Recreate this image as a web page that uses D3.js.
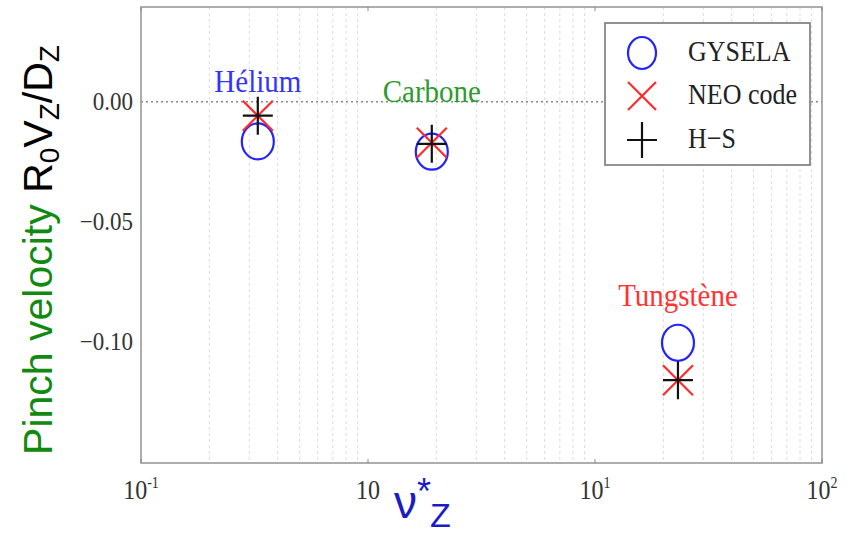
<!DOCTYPE html>
<html>
<head>
<meta charset="utf-8">
<script src="https://cdn.jsdelivr.net/npm/d3@7"></script>
<style>
  body { margin: 0; background: #fff; }
  svg { display: block; }
  .tick-label { font-family: "Liberation Serif", serif; fill: #333; }
  .note { font-family: "Liberation Serif", serif; }
</style>
</head>
<body>
<div id="chart"></div>
<script>
// collision frequency of each impurity (nu*_Z)
const species = ["Hélium", "Carbone", "Tungstène"];
const speciesColor = ["#3333ff", "#2e9a2e", "#ff3333"];
const nuStar = [0.327, 1.91, 23.2];

// pinch velocity R0 Vz / Dz for each model
const gysela = [-0.0165, -0.0208, -0.1004];
const neoCode = [-0.0058, -0.0171, -0.116];
const hirshSigmar = [-0.0058, -0.0175, -0.116];

const seriesNames = ["GYSELA", "NEO code", "H\u2212S"];

const yTicks = [0, -0.05, -0.10];
const yTickLabels = ["0.00", "\u22120.05", "\u22120.10"];
const xTicks = [0.1, 1, 10, 100];
const xTickBase = ["10", "10", "10", "10"];
const xTickExp = ["-1", "", "1", "2"];

const W = 854, H = 537;
const margin = {top: 7, right: 32, bottom: 74, left: 141};

const svg = d3.select("#chart").append("svg")
    .attr("width", W)
    .attr("height", H);

const x = d3.scaleLog().domain([0.1, 100]).range([margin.left, W - margin.right]);
const y = d3.scaleLinear().domain([-0.1505, 0.0395]).range([H - margin.bottom, margin.top]);

// minor grid (2..9 in each decade), dashed
let minor = [];
[0.1, 1, 10].forEach(d => {
    for (let k = 2; k <= 9; k++) minor.push(d * k);
});
svg.append("g")
    .selectAll("line")
    .data(minor)
    .enter().append("line")
    .attr("x1", d => x(d)).attr("x2", d => x(d))
    .attr("y1", y.range()[1]).attr("y2", y.range()[0])
    .attr("stroke", "#dcdcdc")
    .attr("stroke-width", 1)
    .attr("stroke-dasharray", "3,3");

// zero reference line
svg.append("line")
    .attr("x1", x.range()[0]).attr("x2", x.range()[1])
    .attr("y1", y(0)).attr("y2", y(0))
    .attr("stroke", "#888")
    .attr("stroke-width", 1.5)
    .attr("stroke-dasharray", "2,3");

// frame
svg.append("rect")
    .attr("x", x.range()[0]).attr("y", y.range()[1])
    .attr("width", x.range()[1] - x.range()[0])
    .attr("height", y.range()[0] - y.range()[1])
    .attr("fill", "none")
    .attr("stroke", "#999")
    .attr("stroke-width", 1.6);

// small major ticks on top and bottom
xTicks.forEach(d => {
    svg.append("line")
        .attr("x1", x(d)).attr("x2", x(d))
        .attr("y1", y.range()[0]).attr("y2", y.range()[0] - 4)
        .attr("stroke", "#888");
    svg.append("line")
        .attr("x1", x(d)).attr("x2", x(d))
        .attr("y1", y.range()[1]).attr("y2", y.range()[1] + 4)
        .attr("stroke", "#888");
});

// y tick labels
svg.append("g")
    .selectAll("text")
    .data(yTicks)
    .enter().append("text")
    .attr("class", "tick-label")
    .attr("text-anchor", "end")
    .attr("font-size", 23)
    .attr("transform", d => `translate(133, ${y(d) + 8}) scale(1,1.1)`)
    .text((d, i) => yTickLabels[i]);

// x tick labels with exponents
const xl = svg.append("g")
    .selectAll("text")
    .data(xTicks)
    .enter().append("text")
    .attr("class", "tick-label")
    .attr("text-anchor", "middle")
    .attr("font-size", 24)
    .attr("transform", d => `translate(${x(d)}, 499) scale(1,1.15)`);
xl.append("tspan").text((d, i) => xTickBase[i]);
xl.append("tspan")
    .attr("font-size", 14)
    .attr("dy", -10)
    .text((d, i) => xTickExp[i]);

// markers
function drawCircle(g, cx, cy, rx, ry) {
    g.append("ellipse")
        .attr("cx", cx).attr("cy", cy)
        .attr("rx", rx).attr("ry", ry)
        .attr("fill", "none")
        .attr("stroke", "#2323ff")
        .attr("stroke-width", 2.2);
}
function drawCross(g, cx, cy, s) {
    g.append("path")
        .attr("d", `M${cx - s},${cy - s}L${cx + s},${cy + s}M${cx - s},${cy + s}L${cx + s},${cy - s}`)
        .attr("stroke", "#ff2a2a")
        .attr("stroke-width", 2.2)
        .attr("fill", "none");
}
function drawPlus(g, cx, cy, w, h) {
    g.append("path")
        .attr("d", `M${cx - w},${cy}L${cx + w},${cy}M${cx},${cy - h}L${cx},${cy + h}`)
        .attr("stroke", "#111")
        .attr("stroke-width", 2.2)
        .attr("fill", "none");
}

const marks = svg.append("g");
nuStar.forEach((d, i) => drawCircle(marks, x(d), y(gysela[i]), 16, 18));
nuStar.forEach((d, i) => drawCross(marks, x(d), y(neoCode[i]), 15));
nuStar.forEach((d, i) => drawPlus(marks, x(d), y(hirshSigmar[i]), 15, 19));

// species labels
const labelY = [92, 102, 306];
svg.append("g")
    .selectAll("text")
    .data(species)
    .enter().append("text")
    .attr("class", "note")
    .attr("text-anchor", "middle")
    .attr("font-size", 29)
    .attr("fill", (d, i) => speciesColor[i])
    .attr("transform", (d, i) => `translate(${x(nuStar[i])}, ${labelY[i]}) scale(1,1.12)`)
    .text(d => d);

// legend
const lg = svg.append("g");
lg.append("rect")
    .attr("x", 605).attr("y", 23)
    .attr("width", 205).attr("height", 142)
    .attr("fill", "#fff")
    .attr("stroke", "#777")
    .attr("stroke-width", 1.6);
const rowY = [53, 96, 140];
drawCircle(lg, 642, rowY[0], 14, 16);
drawCross(lg, 642, rowY[1], 14);
drawPlus(lg, 642, rowY[2], 15, 18);
lg.selectAll("text.lgt")
    .data(seriesNames)
    .enter().append("text")
    .attr("class", "note lgt")
    .attr("font-size", 26)
    .attr("fill", "#222")
    .attr("transform", (d, i) => `translate(688, ${rowY[i] + 8}) scale(1,1.12)`)
    .text(d => d);

// y axis title
const yt = svg.append("text")
    .attr("font-family", "Liberation Sans, Arial, sans-serif")
    .attr("font-size", 41)
    .attr("text-anchor", "middle")
    .attr("transform", "translate(52, 250) rotate(-90)");
yt.append("tspan").attr("fill", "#128a12").text("Pinch velocity ");
yt.append("tspan").attr("fill", "#000").text("R");
yt.append("tspan").attr("fill", "#000").attr("font-size", 28).attr("dy", 7).text("0");
yt.append("tspan").attr("fill", "#000").attr("dy", -7).text("V");
yt.append("tspan").attr("fill", "#000").attr("font-size", 28).attr("dy", 7).text("Z");
yt.append("tspan").attr("fill", "#000").attr("dy", -7).text("/D");
yt.append("tspan").attr("fill", "#000").attr("font-size", 28).attr("dy", 7).text("Z");

// x axis title
const xt = svg.append("text")
    .attr("font-family", "Liberation Sans, Arial, sans-serif")
    .attr("fill", "#1c1cc4")
    .attr("x", 394).attr("y", 518);
xt.append("tspan").attr("font-size", 46).text("\u03bd");
xt.append("tspan").attr("font-size", 36).attr("dy", -14).text("*");
xt.append("tspan").attr("font-size", 34).attr("dy", 23).attr("dx", -1).text("Z");
</script>
</body>
</html>
